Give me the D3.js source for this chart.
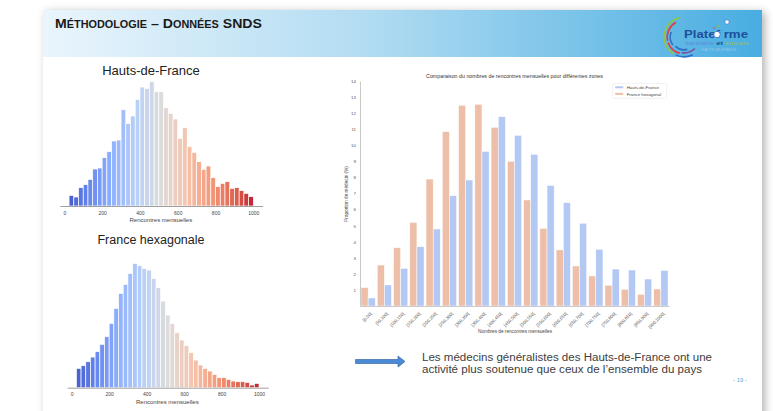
<!DOCTYPE html>
<html>
<head>
<meta charset="utf-8">
<script src="https://cdn.jsdelivr.net/npm/d3@7"></script>
<style>
  body { margin: 0; background: #fff; }
  svg { display: block; }
</style>
</head>
<body>
<div id="slide"></div>
<script>
var width = 773,
  height = 411;

// Histogram bins : 25 wide, from 25 to 1000
var histStart = 25,
  histStep = 25;
var hdfCounts = [
  32, 27, 55, 64, 80, 111, 114, 145, 163, 195, 198, 289, 248, 270, 320, 357,
  353, 373, 343, 343, 295, 278, 261, 203, 235, 178, 161, 133, 110, 120, 85,
  58, 68, 73, 53, 55, 46, 38, 28,
];
var franceCounts = [
  58, 66, 78, 92, 108, 130, 153, 193, 238, 283, 310, 343, 373, 366, 358, 353,
  328, 300, 260, 218, 193, 165, 143, 126, 105, 83, 68, 58, 50, 40, 30, 30, 25,
  20, 18, 18, 16, 8, 13,
];
var histTicks = [0, 200, 400, 600, 800, 1000];

// Grouped bars : share of doctors (%) by class of monthly encounters
var classes = [
  "[0,50[", "[50,100[", "[100,150[", "[150,200[", "[200,250[", "[250,300[",
  "[300,350[", "[350,400[", "[400,450[", "[450,500[", "[500,550[",
  "[550,600[", "[600,650[", "[650,700[", "[700,750[", "[750,800[",
  "[800,850[", "[850,900[", "[900,1000[",
];
var franceShare = [
  1.15, 2.55, 3.63, 5.2, 7.9, 10.85, 12.49, 12.55, 11.12, 9.0, 6.6, 4.83,
  3.49, 2.49, 1.87, 1.29, 1.04, 0.73, 1.06,
];
var hdfShare = [
  0.5, 1.31, 2.34, 3.69, 4.79, 6.87, 7.84, 9.62, 11.78, 10.62, 9.44, 7.5,
  6.43, 5.15, 3.53, 2.3, 2.24, 1.68, 2.22,
];
var shareTicks = [1, 2, 3, 4, 5, 6, 7, 8, 9, 10, 11, 12, 13, 14];
var seriesNames = ["Hauts-de-France", "France hexagonal"];

var svg = d3
  .select("#slide")
  .append("svg")
  .attr("width", width)
  .attr("height", height);

var defs = svg.append("defs");

var shadow = defs
  .append("filter")
  .attr("id", "shadow")
  .attr("x", "-5%")
  .attr("y", "-5%")
  .attr("width", "110%")
  .attr("height", "110%");
shadow
  .append("feDropShadow")
  .attr("dx", 3)
  .attr("dy", 2)
  .attr("stdDeviation", 4)
  .attr("flood-color", "#000")
  .attr("flood-opacity", 0.3);

var headGrad = defs.append("linearGradient").attr("id", "headGrad");
headGrad.append("stop").attr("offset", "0%").attr("stop-color", "#eaf5fc");
headGrad.append("stop").attr("offset", "45%").attr("stop-color", "#b2dcf2");
headGrad.append("stop").attr("offset", "100%").attr("stop-color", "#48ade1");

// Slide
svg
  .append("rect")
  .attr("x", 43)
  .attr("y", 10)
  .attr("width", 719)
  .attr("height", 430)
  .attr("fill", "#fff")
  .attr("filter", "url(#shadow)");
svg
  .append("rect")
  .attr("x", 43)
  .attr("y", 10)
  .attr("width", 719)
  .attr("height", 47)
  .attr("fill", "url(#headGrad)");

// Header title in small caps
var head = svg
  .append("text")
  .attr("x", 55)
  .attr("y", 28)
  .attr("textLength", 207)
  .attr("lengthAdjust", "spacingAndGlyphs")
  .style("font-family", "'Liberation Sans Narrow', 'Liberation Sans', Arial")
  .style("font-weight", "bold")
  .style("fill", "#1a1a1a");
[
  ["M", 13], ["ÉTHODOLOGIE", 10], [" – ", 13], ["D", 13], ["ONNÉES", 10],
  [" SNDS", 13],
].forEach(function (p) {
  head.append("tspan").style("font-size", p[1] + "px").text(p[0]);
});

// Logo
var logo = svg.append("g").attr("transform", "translate(684,37)");
var arc = d3.arc();
[
  [20, -2.6, -1.6, "#8dc63f"],
  [17, -2.9, -1.9, "#e03a3e"],
  [20, -1.55, -0.2, "#8dc63f"],
  [14, -2.2, -1.2, "#2e6fc6"],
  [17, -1.8, -0.5, "#e03a3e"],
  [20, -3.6, -2.7, "#2e6fc6"],
  [16, -3.9, -3.0, "#7b4fa0"],
  [13, -3.4, -2.4, "#2e6fc6"],
].forEach(function (a) {
  logo
    .append("path")
    .attr(
      "d",
      arc({
        innerRadius: a[0] - 1,
        outerRadius: a[0] + 0.6,
        startAngle: a[1],
        endAngle: a[2],
      })
    )
    .attr("fill", a[3]);
});
svg
  .append("text")
  .attr("x", 684)
  .attr("y", 38)
  .text("Platef rme")
  .style("font-family", "'Liberation Sans', Arial")
  .style("font-weight", "bold")
  .style("font-size", "11.5px")
  .style("fill", "#1f4f9c")
  .attr("textLength", 64)
  .attr("lengthAdjust", "spacingAndGlyphs");
svg.append("circle").attr("cx", 717).attr("cy", 34.5).attr("r", 3.2).attr("fill", "#fff").attr("stroke", "#2e6fc6").attr("stroke-width", 0.8);
svg.append("circle").attr("cx", 727).attr("cy", 22).attr("r", 2.2).attr("fill", "#fff").attr("stroke", "#2e6fc6").attr("stroke-width", 0.6);
svg.append("circle").attr("cx", 719).attr("cy", 26).attr("r", 1.1).attr("fill", "#8dc63f");
svg.append("circle").attr("cx", 714).attr("cy", 28).attr("r", 0.8).attr("fill", "#e03a3e");
var logoSub = svg
  .append("text")
  .attr("x", 685)
  .attr("y", 45)
  .style("font-family", "'Liberation Sans', Arial")
  .style("font-size", "5.5px")
  .attr("textLength", 64)
  .attr("lengthAdjust", "spacingAndGlyphs");
logoSub.append("tspan").text("sanitaire ").style("fill", "#5a8fd6");
logoSub.append("tspan").text("et ").style("fill", "#1f4f9c").style("font-weight", "bold");
logoSub.append("tspan").text("sociale").style("fill", "#8dc63f");
svg
  .append("text")
  .attr("x", 719)
  .attr("y", 51)
  .attr("text-anchor", "middle")
  .text("HAUTS-DE-FRANCE")
  .style("font-family", "'Liberation Sans', Arial")
  .style("font-size", "3.6px")
  .style("fill", "#9cc7e8");

// Diverging colour map (blue - grey - red) for the histograms
var coolwarm = d3
  .scaleLinear()
  .domain([0, 0.125, 0.25, 0.375, 0.5, 0.625, 0.75, 0.875, 1])
  .range([
    "#3b4cc0", "#6282ea", "#8db0fe", "#b8d0f9", "#dddcdc", "#f5c4ac",
    "#f49a7b", "#de604d", "#b40426",
  ])
  .interpolate(d3.interpolateRgb);

function drawHist(counts, cfg) {
  var g = svg.append("g");
  var x = d3.scaleLinear().domain([-24, 1049]).range(cfg.xRange);
  var y = d3.scaleLinear().domain([0, 373]).range([cfg.base, cfg.base - 124.3]);

  g.selectAll("rect")
    .data(counts)
    .enter()
    .append("rect")
    .attr("x", function (d, i) { return x(histStart + i * histStep); })
    .attr("width", function (d, i) {
      return x(histStart + (i + 1) * histStep) - x(histStart + i * histStep);
    })
    .attr("y", function (d) { return y(d); })
    .attr("height", function (d) { return cfg.base - y(d); })
    .attr("fill", function (d, i) {
      return coolwarm(0.05 + 0.9 * i / (counts.length - 1));
    })
    .attr("stroke", "#fff")
    .attr("stroke-width", 0.7);

  var axis = g
    .append("g")
    .attr("transform", "translate(0," + cfg.base + ")")
    .call(
      d3.axisBottom(x).tickValues(histTicks).tickFormat(d3.format("d"))
        .tickSize(0).tickPadding(5)
    );
  axis.select(".domain").attr("stroke", "#888").attr("stroke-width", 0.8);
  axis
    .selectAll("text")
    .style("font-family", "'Liberation Sans', Arial")
    .style("font-size", "5px")
    .style("fill", "#444");

  g.append("text")
    .attr("x", x(500) + 2)
    .attr("y", cfg.base + 16)
    .attr("text-anchor", "middle")
    .text("Rencontres mensuelles")
    .style("font-family", "'Liberation Sans', Arial")
    .style("font-size", "6px")
    .style("fill", "#444");

  g.append("text")
    .attr("x", 151)
    .attr("y", cfg.titleY)
    .attr("text-anchor", "middle")
    .text(cfg.title)
    .style("font-family", "'Liberation Sans', Arial")
    .style("font-size", cfg.titleSize)
    .style("fill", "#222");
}

drawHist(hdfCounts, {
  xRange: [59.8, 262.6],
  base: 206,
  title: "Hauts-de-France",
  titleY: 75,
  titleSize: "13px",
});
drawHist(franceCounts, {
  xRange: [67.2, 268.2],
  base: 387.7,
  title: "France hexagonale",
  titleY: 244.3,
  titleSize: "12.5px",
});

// Grouped bar chart
var chart = svg.append("g");
var x0 = d3.scaleBand().domain(classes).range([360, 669]).paddingInner(0.12).paddingOuter(0.06);
var x1 = d3.scaleBand().domain(["France", "HDF"]).range([0, x0.bandwidth()]);
var y = d3.scaleLinear().domain([0, 14]).range([306, 81]);
var barColor = { HDF: "#b3c8f2", France: "#eebfa8" };

var groups = chart
  .selectAll("g.grp")
  .data(classes)
  .enter()
  .append("g")
  .attr("class", "grp")
  .attr("transform", function (d) { return "translate(" + x0(d) + ",0)"; });

groups
  .selectAll("rect")
  .data(function (d, i) {
    return [
      { key: "France", v: franceShare[i] },
      { key: "HDF", v: hdfShare[i] },
    ];
  })
  .enter()
  .append("rect")
  .attr("x", function (d) { return x1(d.key); })
  .attr("width", x1.bandwidth())
  .attr("y", function (d) { return y(d.v); })
  .attr("height", function (d) { return y(0) - y(d.v); })
  .attr("fill", function (d) { return barColor[d.key]; })
  .attr("stroke", "#fff")
  .attr("stroke-width", 0.5);

var yAxis = chart
  .append("g")
  .attr("transform", "translate(360,0)")
  .call(d3.axisLeft(y).tickValues(shareTicks).tickSize(0).tickPadding(4));
yAxis.select(".domain").attr("stroke", "#bbb").attr("stroke-width", 0.8);
yAxis
  .selectAll("text")
  .style("font-family", "'Liberation Sans', Arial")
  .style("font-size", "4.4px")
  .style("fill", "#555");

var xAxis = chart
  .append("g")
  .attr("transform", "translate(0,306)")
  .call(d3.axisBottom(x0).tickSize(0).tickFormat(""));
xAxis.select(".domain").attr("stroke", "#bbb").attr("stroke-width", 0.8);

chart
  .selectAll("text.xlab")
  .data(classes)
  .enter()
  .append("text")
  .attr("class", "xlab")
  .attr("text-anchor", "end")
  .attr("transform", function (d) {
    return "translate(" + (x0(d) + x0.bandwidth() / 2 + 4) + ",314) rotate(-45)";
  })
  .text(function (d) { return d; })
  .style("font-family", "'Liberation Sans', Arial")
  .style("font-size", "4.4px")
  .style("fill", "#555");

chart
  .append("text")
  .attr("x", 515)
  .attr("y", 332.5)
  .attr("text-anchor", "middle")
  .text("Nombres de rencontres mensuelles")
  .style("font-family", "'Liberation Sans', Arial")
  .style("font-size", "4.7px")
  .style("fill", "#444");

chart
  .append("text")
  .attr("transform", "translate(347.5,194) rotate(-90)")
  .attr("text-anchor", "middle")
  .text("Proportion de médecin (%)")
  .style("font-family", "'Liberation Sans', Arial")
  .style("font-size", "4.7px")
  .style("fill", "#444");

chart
  .append("text")
  .attr("x", 514.5)
  .attr("y", 77.5)
  .attr("text-anchor", "middle")
  .text("Comparaison du nombres de rencontres mensuelles pour différentes zones")
  .style("font-family", "'Liberation Sans', Arial")
  .style("font-size", "5.3px")
  .style("fill", "#333");

// Legend
var legend = chart.append("g").attr("transform", "translate(612.7,83.3)");
legend
  .append("rect")
  .attr("width", 54)
  .attr("height", 15)
  .attr("rx", 1)
  .attr("fill", "#fff")
  .attr("stroke", "#e2e2e2")
  .attr("stroke-width", 0.5);
legend
  .selectAll("g")
  .data(seriesNames)
  .enter()
  .append("g")
  .attr("transform", function (d, i) { return "translate(0," + (4 + i * 6.6) + ")"; })
  .each(function (d, i) {
    var r = d3.select(this);
    r.append("rect")
      .attr("x", 2.5)
      .attr("y", -1)
      .attr("width", 8)
      .attr("height", 2)
      .attr("fill", i == 0 ? barColor.HDF : barColor.France);
    r.append("text")
      .attr("x", 14)
      .attr("y", 1.6)
      .text(d)
      .style("font-family", "'Liberation Sans', Arial")
      .style("font-size", "4.3px")
      .style("fill", "#444");
  });

// Conclusion arrow and text
svg
  .append("path")
  .attr("d", "M355.5,359.5 H398 V356 L405,361.5 L398,367 V363.5 H355.5 Z")
  .attr("fill", "#4a8bd5")
  .attr("stroke", "#2c5a94")
  .attr("stroke-width", 0.6);

var conclLines = [
  ["Les médecins généralistes des Hauts-de-France ont une", 290, 361],
  ["activité plus soutenue que ceux de l’ensemble du pays", 280, 372.7],
];
conclLines.forEach(function (l) {
  svg
    .append("text")
    .attr("x", 422)
    .attr("y", l[2])
    .attr("textLength", l[1])
    .attr("lengthAdjust", "spacingAndGlyphs")
    .text(l[0])
    .style("font-family", "'Liberation Sans', Arial")
    .style("font-size", "10px")
    .style("fill", "#404040");
});

svg
  .append("text")
  .attr("x", 740)
  .attr("y", 382)
  .attr("text-anchor", "middle")
  .text("- 19 -")
  .style("font-family", "'Liberation Sans', Arial")
  .style("font-size", "6px")
  .style("fill", "#4fb0e6");
</script>
</body>
</html>
